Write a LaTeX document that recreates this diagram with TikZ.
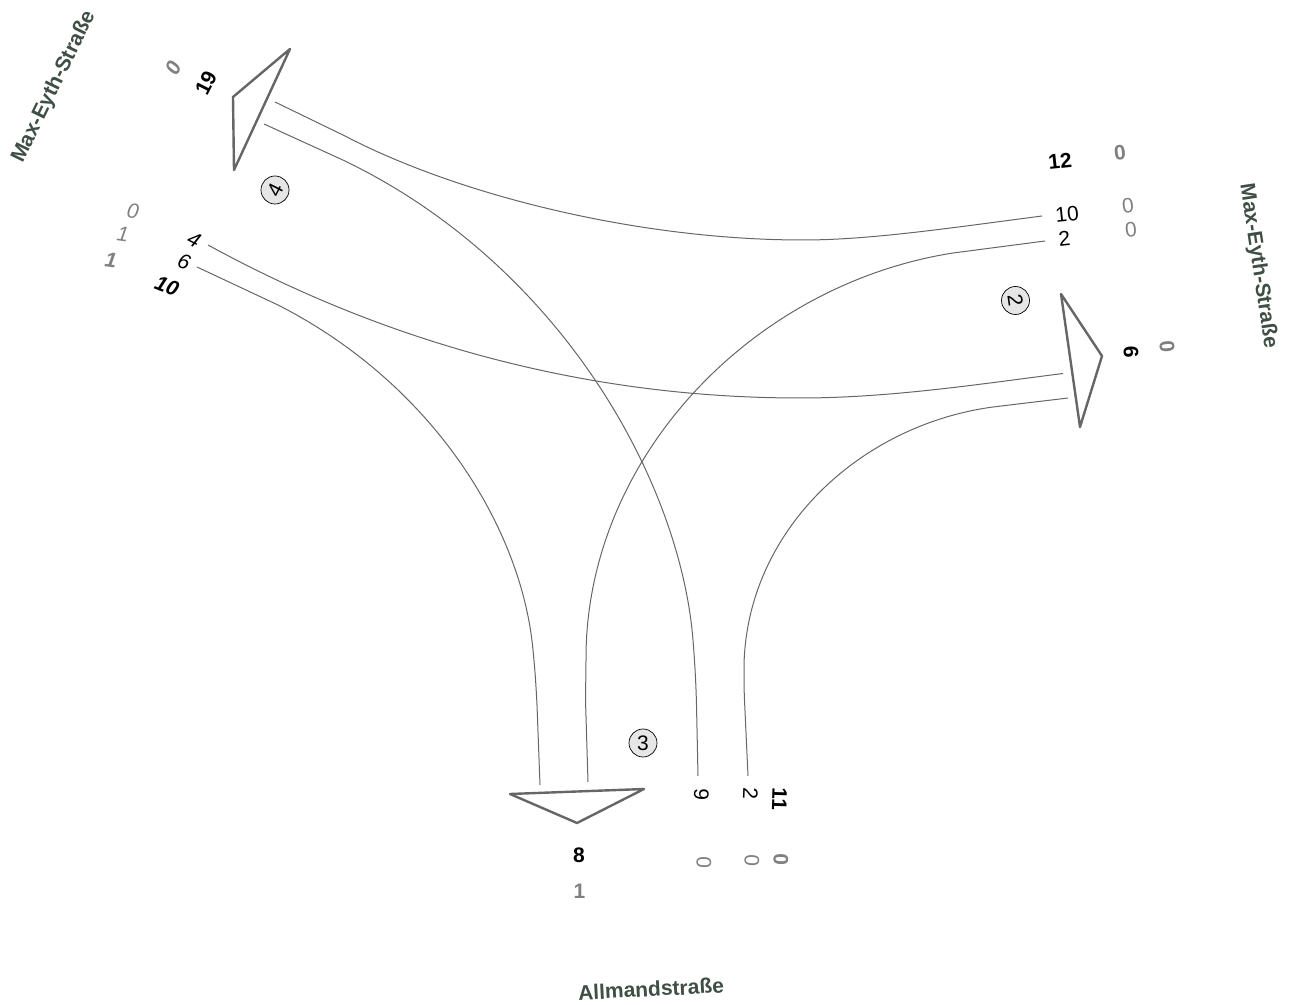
\documentclass[tikz,border=0pt]{standalone}
\usepackage{fontspec}
\setmainfont{Liberation Sans}
\definecolor{street}{HTML}{3F4F45}
\definecolor{arm}{HTML}{666666}
\definecolor{zero}{HTML}{808080}
\definecolor{bub}{HTML}{E6E6E6}
\tikzset{
  lane/.style={draw=arm,line width=0.5pt},
  island/.style={draw=arm,line width=1.2pt,line join=round},
  lab/.style={inner sep=0pt,font=\fontsize{10.5}{12}\selectfont,text=black},
  blab/.style={lab,font=\fontsize{10.5}{12}\selectfont\bfseries},
  ilab/.style={lab,font=\fontsize{10.5}{12}\selectfont\itshape},
  iblab/.style={lab,font=\fontsize{10.5}{12}\selectfont\itshape\bfseries},
  gray lab/.style={text=zero},
  streetlab/.style={inner sep=0pt,font=\fontsize{10.5}{12}\selectfont\bfseries,text=street},
  bubble/.style={circle,draw=black,fill=bub,line width=0.35pt,minimum size=14pt,inner sep=0pt,font=\fontsize{10.5}{12}\selectfont},
}
\begin{document}
\begin{tikzpicture}[x=0.5pt,y=-0.5pt]
\useasboundingbox (0,0) rectangle (1292,1005);
% islands
\draw[island] (233,97) -- (290,49) -- (234,170) -- cycle;
\draw[island] (1061,294) -- (1102,356) -- (1080,427) -- cycle;
\draw[island] (510,794) -- (644,789) -- (577,823) -- cycle;
% lane ends
\coordinate (a1) at (275,102); \coordinate (a2) at (1042,216);
\coordinate (b1) at (264,124); \coordinate (b2) at (698,776);
\coordinate (c1) at (208,245); \coordinate (c2) at (1063,373.5);
\coordinate (d1) at (197,267); \coordinate (d2) at (540,785);
\coordinate (e1) at (1045,241); \coordinate (e2) at (588,782);
\coordinate (f1) at (1068,398); \coordinate (f2) at (748,776);
\draw[lane] (a1) -- (345,136) .. controls (460,196) and (640,240) .. (803,240) .. controls (870,240) and (950,228) .. (a2);
\draw[lane] (b1) -- (345,161) .. controls (560,265) and (680,480) .. (693,640) .. controls (695,665) and (696,685) .. (696.5,705) -- (b2);
\draw[lane] (c1) .. controls (400,350) and (600,398) .. (800,398) .. controls (890,398) and (980,384) .. (c2);
\draw[lane] (d1) -- (278,305) .. controls (435,385) and (522,530) .. (533,650) .. controls (535,670) and (536,685) .. (537,705) -- (d2);
\draw[lane] (e1) -- (953,253) .. controls (750,285) and (585,460) .. (586,660) .. controls (586,675) and (585.5,690) .. (585.5,700) -- (e2);
\draw[lane] (f1) -- (993,407) .. controls (860,425) and (747,530) .. (744,665) .. controls (744,675) and (744,690) .. (744.5,700) -- (f2);
% street names
\node[streetlab,rotate=64] (s1) at (54,87) {Max-Eyth-Straße};
\node[streetlab,rotate=-81.5] (s2) at (1258,266) {Max-Eyth-Straße};
\node[streetlab,rotate=3] (s3) at (651,989) {Allmandstraße};
% bubbles
\node[bubble] (n4) at (275,190) {\rotatebox{63}{4}};
\node[bubble] (n2) at (1015.5,300.5) {\rotatebox{-82}{2}};
\node[bubble] (n3) at (643,743) {3};
% top-left arm
\node[iblab,gray lab,rotate=63] (t0) at (173,68) {0};
\node[blab,rotate=63] (t19) at (206,83) {19};
% left arm
\node[ilab,gray lab,rotate=-8] (l0) at (133,211) {0};
\node[ilab,gray lab,rotate=-8] (l1) at (123,234) {1};
\node[iblab,gray lab,rotate=-8] (l2) at (111,260) {1};
\node[ilab,rotate=-27] (l4) at (194,240) {4};
\node[ilab,rotate=-20] (l6) at (184,262) {6};
\node[iblab,rotate=-22] (l10) at (167,286) {10};
% right arm
\node[blab,rotate=6] (r12) at (1060,161) {12};
\node[blab,gray lab,rotate=6] (r0) at (1120,153) {0};
\node[lab,rotate=6] (r10) at (1067,214) {10};
\node[lab,rotate=6] (r2) at (1064.5,239) {2};
\node[lab,gray lab,rotate=6] (r01) at (1128,206) {0};
\node[lab,gray lab,rotate=6] (r02) at (1131,230) {0};
\node[blab,rotate=-88] (r6) at (1131,352) {6};
\node[blab,gray lab,rotate=-85] (r03) at (1167,347) {0};
% bottom arm
\node[blab] (b8) at (579,855) {8};
\node[blab,gray lab] (b1n) at (579.5,891) {1};
\node[lab,rotate=-92] (b9) at (701.5,795) {9};
\node[lab,rotate=-92] (b2n) at (750.5,794) {2};
\node[blab,rotate=-92] (b11) at (779.5,799) {11};
\node[lab,gray lab,rotate=-92] (b01) at (704,863) {0};
\node[lab,gray lab,rotate=-92] (b02) at (752,861) {0};
\node[blab,gray lab,rotate=-92] (b03) at (781,860) {0};
\end{tikzpicture}
\end{document}
